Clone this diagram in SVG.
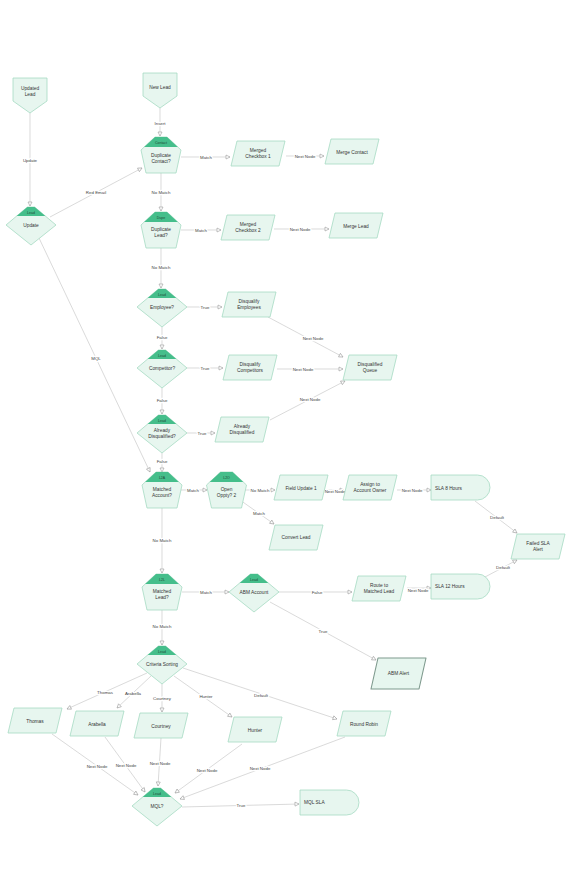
<svg xmlns="http://www.w3.org/2000/svg" xmlns:xlink="http://www.w3.org/1999/xlink" width="572" height="890" viewBox="0 0 572 890">
<style>
.n{fill:#e7f6ef;stroke:#a6dbc3;stroke-width:0.8;stroke-linejoin:round}
.alert{fill:#e7f6ef;stroke:#7f9a8e;stroke-width:1.1;stroke-linejoin:round}
.tag{fill:#45be8b}
.t{font-family:"Liberation Sans",Arial,sans-serif;font-size:4.8px;fill:#333;text-anchor:middle}
.tl{text-anchor:start}
.tt{font-family:"Liberation Sans",Arial,sans-serif;font-size:3.5px;fill:#1f4a37;text-anchor:middle}
.e{fill:none;stroke:#cacaca;stroke-width:0.7;marker-end:url(#a)}
.l{font-family:"Liberation Sans",Arial,sans-serif;font-size:4.4px;fill:#444;text-anchor:middle;stroke:#fff;stroke-width:2.4;paint-order:stroke;stroke-linejoin:round}
</style>
<defs>
<marker id="a" markerUnits="userSpaceOnUse" markerWidth="6" markerHeight="6" refX="5" refY="3" orient="auto">
<path d="M1,1 L5,3 L1,5 Z" fill="#fff" stroke="#9a9a9a" stroke-width="0.6"/>
</marker>
<g id="pent">
<polygon class="n" points="-6,0 6,0 20,13 15,36 -15,36 -20,13"/>
<polygon class="tag" points="-6,0 6,0 16.8,10 -16.8,10"/>
</g>
<g id="dia">
<polygon class="n" points="-3.6,-18 3.6,-18 25,0 0,20 -25,0"/>
<polygon class="tag" points="-3.6,-18 3.6,-18 14.3,-9 -14.3,-9"/>
</g>
<path id="para" class="n" d="M6,0 H54 L48,25 H0 Z"/>
<path id="delay" class="n" d="M0,0 H46.5 A12.5,12.5 0 0 1 46.5,25 H0 Z"/>
<path id="off" class="n" d="M0,0 H34 V23 L17,35 L0,23 Z"/>
</defs>

<g id="connectors">
<path class="e" d="M160,108 V136"/><text class="l" x="160" y="124.5">Insert</text>
<path class="e" d="M30,113 V206"/><text class="l" x="30" y="161.5">Update</text>
<path class="e" d="M50,217 L142,168"/><text class="l" x="96" y="193.5">Red Email</text>
<path class="e" d="M181,157 H230"/><text class="l" x="206" y="158.5">Match</text>
<path class="e" d="M286,156 H324"/><text class="l" x="305" y="157.5">Next Node</text>
<path class="e" d="M161,173 V211"/><text class="l" x="161" y="193.5">No Match</text>
<path class="e" d="M181,230 H221"/><text class="l" x="201" y="231.5">Match</text>
<path class="e" d="M274,229 H329"/><text class="l" x="300" y="230.5">Next Node</text>
<path class="e" d="M161,248 V288"/><text class="l" x="161" y="268.5">No Match</text>
<path class="e" d="M187,307 H222"/><text class="l" x="205" y="309">True</text>
<path class="e" d="M268,317 L343,357"/><text class="l" x="313" y="339.5">Next Node</text>
<path class="e" d="M162,327 V349"/><text class="l" x="162" y="338.5">False</text>
<path class="e" d="M187,368 H223"/><text class="l" x="205" y="370">True</text>
<path class="e" d="M277,369 H343"/><text class="l" x="303" y="370.5">Next Node</text>
<path class="e" d="M162,388 V414"/><text class="l" x="162" y="401.5">False</text>
<path class="e" d="M187,433 H215"/><text class="l" x="202" y="434.5">True</text>
<path class="e" d="M270,420 L345,381"/><text class="l" x="310" y="400.5">Next Node</text>
<path class="e" d="M162,453 V472"/><text class="l" x="162" y="462.5">False</text>
<path class="e" d="M39,238 L150,472"/><text class="l" x="96" y="359.5">MQL</text>
<path class="e" d="M181,490 H207"/><text class="l" x="193" y="491.5">Match</text>
<path class="e" d="M245,490 H275"/><text class="l" x="260" y="491.5">No Match</text>
<path class="e" d="M327,490 H344"/><text class="l" x="335" y="492.5">Next Node</text>
<path class="e" d="M397,490 H431"/><text class="l" x="412" y="492">Next Node</text>
<path class="e" d="M475,501 L517,533"/><text class="l" x="497" y="518.5">Default</text>
<path class="e" d="M485,577 L517,560"/><text class="l" x="503" y="568.5">Default</text>
<path class="e" d="M407,588 H431"/><text class="l" x="418" y="591.5">Next Node</text>
<path class="e" d="M240,500 L274,524"/><text class="l" x="259" y="514.5">Match</text>
<path class="e" d="M162,508 V573"/><text class="l" x="162" y="541.5">No Match</text>
<path class="e" d="M182,592 H229"/><text class="l" x="206" y="593.5">Match</text>
<path class="e" d="M279,592 H352"/><text class="l" x="317" y="593.5">False</text>
<path class="e" d="M270,602 L376,660"/><text class="l" x="323" y="632.5">True</text>
<path class="e" d="M162,610 V645"/><text class="l" x="162" y="627.5">No Match</text>
<path class="e" d="M147,673 L67,709"/><text class="l" x="105" y="693.5">Thomas</text>
<path class="e" d="M151,676 L117,708"/><text class="l" x="133" y="694.5">Arabella</text>
<path class="e" d="M162,684 V712"/><text class="l" x="162" y="699.5">Courtney</text>
<path class="e" d="M174,676 L232,717"/><text class="l" x="206" y="697.5">Hunter</text>
<path class="e" d="M183,668 L337,719"/><text class="l" x="261" y="696.5">Default</text>
<path class="e" d="M52,734 L138,795"/><text class="l" x="97" y="767.5">Next Node</text>
<path class="e" d="M105,737 L145,792"/><text class="l" x="126" y="766.5">Next Node</text>
<path class="e" d="M161,738 L158,786"/><text class="l" x="160" y="764.5">Next Node</text>
<path class="e" d="M242,744 L175,793"/><text class="l" x="207" y="771.5">Next Node</text>
<path class="e" d="M345,737 L180,799"/><text class="l" x="260" y="769.5">Next Node</text>
<path class="e" d="M182,807 L299,804"/><text class="l" x="241" y="807">True</text>
</g>

<g id="updated-lead"><use href="#off" x="13" y="78"/><text class="t" x="30" y="89.5">Updated</text><text class="t" x="30" y="95.5">Lead</text></g>
<g id="new-lead"><use href="#off" x="143" y="73"/><text class="t" x="160" y="88.7">New Lead</text></g>

<g id="update"><use href="#dia" x="31" y="225"/><text class="tt" x="31" y="213.5">Lead</text><text class="t" x="31" y="226.7">Update</text></g>
<g id="duplicate-contact"><use href="#pent" x="161" y="137"/><text class="tt" x="161" y="144">Contact</text><text class="t" x="161" y="156.5">Duplicate</text><text class="t" x="161" y="162.5">Contact?</text></g>
<g id="merged-checkbox-1"><use href="#para" x="231" y="141"/><text class="t" x="258" y="152">Merged</text><text class="t" x="258" y="158">Checkbox 1</text></g>
<g id="merge-contact"><use href="#para" x="325" y="139"/><text class="t" x="352" y="153.7">Merge Contact</text></g>
<g id="duplicate-lead"><use href="#pent" x="161" y="212"/><text class="tt" x="161" y="219">Dupe</text><text class="t" x="161" y="231">Duplicate</text><text class="t" x="161" y="237">Lead?</text></g>
<g id="merged-checkbox-2"><use href="#para" x="221" y="215"/><text class="t" x="248" y="226">Merged</text><text class="t" x="248" y="232">Checkbox 2</text></g>
<g id="merge-lead"><use href="#para" x="329" y="213"/><text class="t" x="356" y="227.7">Merge Lead</text></g>
<g id="employee"><use href="#dia" x="162" y="307"/><text class="tt" x="162" y="295.5">Lead</text><text class="t" x="162" y="308.7">Employee?</text></g>
<g id="disqualify-employees"><use href="#para" x="222" y="292"/><text class="t" x="249" y="303">Disqualify</text><text class="t" x="249" y="309">Employees</text></g>
<g id="competitor"><use href="#dia" x="162" y="368"/><text class="tt" x="162" y="356.5">Lead</text><text class="t" x="162" y="369.7">Competitor?</text></g>
<g id="disqualify-competitors"><use href="#para" x="223" y="355"/><text class="t" x="250" y="366">Disqualify</text><text class="t" x="250" y="372">Competitors</text></g>
<g id="disqualified-queue"><use href="#para" x="343" y="355"/><text class="t" x="370" y="366">Disqualified</text><text class="t" x="370" y="372">Queue</text></g>
<g id="already-disqualified-q"><use href="#dia" x="162" y="433"/><text class="tt" x="162" y="421.5">Lead</text><text class="t" x="162" y="431.5">Already</text><text class="t" x="162" y="437.5">Disqualified?</text></g>
<g id="already-disqualified"><use href="#para" x="215" y="417"/><text class="t" x="242" y="428">Already</text><text class="t" x="242" y="434">Disqualified</text></g>
<g id="matched-account"><use href="#pent" x="162" y="472"/><text class="tt" x="162" y="479">L2A</text><text class="t" x="162" y="491">Matched</text><text class="t" x="162" y="497">Account?</text></g>
<g id="open-oppty"><use href="#pent" x="226.5" y="472"/><text class="tt" x="226.5" y="479">L2O</text><text class="t" x="226.5" y="491">Open</text><text class="t" x="226.5" y="497">Oppty? 2</text></g>
<g id="field-update-1"><use href="#para" x="274" y="475"/><text class="t" x="301" y="489.7">Field Update 1</text></g>
<g id="assign-owner"><use href="#para" x="343" y="475"/><text class="t" x="370" y="486">Assign to</text><text class="t" x="370" y="492">Account Owner</text></g>
<g id="sla-8"><use href="#delay" x="431" y="475"/><text class="t tl" x="435" y="489.7">SLA 8 Hours</text></g>
<g id="convert-lead"><use href="#para" x="269" y="525"/><text class="t" x="296" y="539.2">Convert Lead</text></g>
<g id="failed-sla-alert"><use href="#para" x="511" y="534"/><text class="t" x="538" y="545">Failed SLA</text><text class="t" x="538" y="551">Alert</text></g>
<g id="matched-lead"><use href="#pent" x="162" y="574"/><text class="tt" x="162" y="581">L2L</text><text class="t" x="162" y="592.5">Matched</text><text class="t" x="162" y="598.5">Lead?</text></g>
<g id="abm-account"><use href="#dia" x="254" y="592"/><text class="tt" x="254" y="580.5">Lead</text><text class="t" x="254" y="593.7">ABM Account</text></g>
<g id="route-matched-lead"><use href="#para" x="352" y="576"/><text class="t" x="379" y="587">Route to</text><text class="t" x="379" y="593">Matched Lead</text></g>
<g id="sla-12"><use href="#delay" x="431" y="574"/><text class="t tl" x="435" y="588.2">SLA 12 Hours</text></g>
<g id="abm-alert"><path class="alert" d="M378,658 H426 L419,689 H371 Z"/><text class="t" x="398.5" y="675">ABM Alert</text></g>
<g id="criteria-sorting"><use href="#dia" x="162" y="664"/><text class="tt" x="162" y="652.5">Lead</text><text class="t" x="162" y="665.7">Criteria Sorting</text></g>
<g id="thomas"><use href="#para" x="8" y="708"/><text class="t" x="35" y="722.7">Thomas</text></g>
<g id="arabella"><use href="#para" x="70" y="711"/><text class="t" x="97" y="725.7">Arabella</text></g>
<g id="courtney"><use href="#para" x="134" y="713"/><text class="t" x="161" y="727.7">Courtney</text></g>
<g id="hunter"><use href="#para" x="228" y="717"/><text class="t" x="255" y="731.7">Hunter</text></g>
<g id="round-robin"><use href="#para" x="337" y="711"/><text class="t" x="364" y="725.7">Round Robin</text></g>
<g id="mql"><use href="#dia" x="157" y="806"/><text class="tt" x="157" y="794.5">Lead</text><text class="t" x="157" y="807.7">MQL?</text></g>
<g id="mql-sla"><use href="#delay" x="300" y="790"/><text class="t tl" x="304" y="803.7">MQL SLA</text></g>
</svg>
